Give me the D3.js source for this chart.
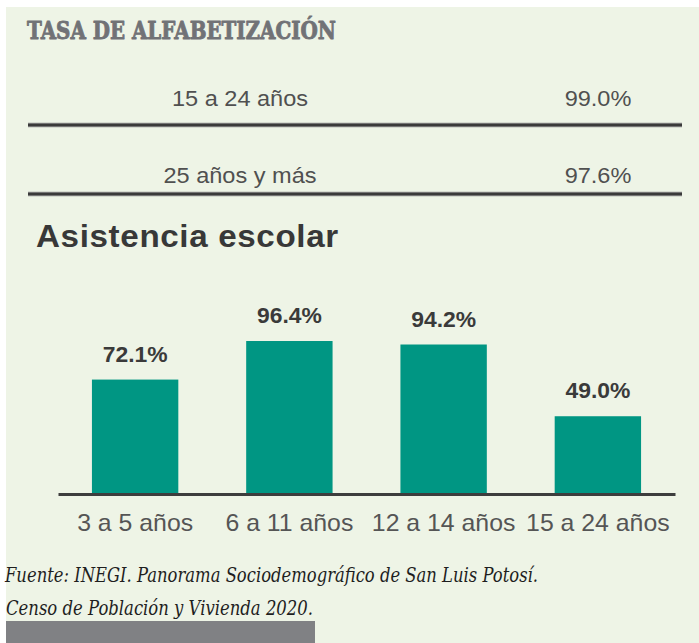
<!DOCTYPE html>
<html>
<head>
<meta charset="utf-8">
<script src="https://cdn.jsdelivr.net/npm/d3@7"></script>
<style>
  html, body { margin: 0; padding: 0; background: #ffffff; }
  svg { display: block; }
</style>
</head>
<body>
<div id="chart"></div>
<script>
// ---- Data ----
const titleTop = "TASA DE ALFABETIZACIÓN";
const literacyGroups = ["15 a 24 años", "25 años y más"];
const literacyValues = [99.0, 97.6];
const chartTitle = "Asistencia escolar";
const categories = ["3 a 5 años", "6 a 11 años", "12 a 14 años", "15 a 24 años"];
const attendance = [72.1, 96.4, 94.2, 49.0];
const sourceLines = [
  "Fuente: INEGI. Panorama Sociodemográfico de San Luis Potosí.",
  " Censo de Población y Vivienda 2020."
];

// ---- Setup ----
const W = 699, H = 643;
const SX = 1.07; // horizontal stretch of the reference typography
const svg = d3.select("#chart").append("svg").attr("width", W).attr("height", H);

svg.append("rect").attr("x", 6).attr("y", 7).attr("width", W - 6).attr("height", H - 7)
  .attr("fill", "#eef4e6");
svg.append("rect").attr("x", 6).attr("y", 621).attr("width", 309).attr("height", H - 621)
  .attr("fill", "#808184");

function txt(x, y, s, o) {
  const g = svg.append("g").attr("transform", `translate(${x},${y}) scale(${o.sx || SX},1)`);
  const t = g.append("text").attr("x", 0).attr("y", 0)
    .attr("text-anchor", o.anchor || "start")
    .attr("font-family", o.family || "'Liberation Sans', Arial, sans-serif")
    .attr("font-size", o.size)
    .attr("font-weight", o.weight || "normal")
    .attr("font-style", o.style || "normal")
    .attr("fill", o.fill || "#333")
    .text(s);
  if (o.letter) t.attr("letter-spacing", o.letter);
  if (o.len) t.attr("textLength", o.len).attr("lengthAdjust", "spacingAndGlyphs");
  if (o.stroke) t.attr("stroke", o.fill).attr("stroke-width", o.stroke).attr("stroke-linejoin", "round");
  return t;
}

// ---- Literacy table ----
txt(27, 39, titleTop, { size: 24, weight: "bold", fill: "#717276",
  family: "'DejaVu Serif', serif", sx: 1, len: 309, stroke: 0.9 });

const yRow = d3.scalePoint().domain(literacyGroups).range([106, 183]);
const lineOffset = [19, 11];
literacyGroups.forEach((g, i) => {
  txt(240, yRow(g), g, { size: 22, anchor: "middle", fill: "#505050" });
  txt(598, yRow(g), literacyValues[i].toFixed(1) + "%", { size: 22, anchor: "middle", fill: "#505050" });
  const ly = yRow(g) + lineOffset[i];
  svg.append("line").attr("x1", 28).attr("x2", 682).attr("y1", ly).attr("y2", ly)
    .attr("stroke", "#8a8a8a").attr("stroke-width", 4.5);
  svg.append("line").attr("x1", 28).attr("x2", 682).attr("y1", ly).attr("y2", ly)
    .attr("stroke", "#3a3a3a").attr("stroke-width", 2.5);
});

// ---- Bar chart ----
txt(36, 247, chartTitle, { size: 31, weight: "bold", fill: "#383838", letter: 0.6 });

const x = d3.scaleBand().domain(categories).range([58, 675])
  .paddingInner(0.44).paddingOuter(0.22);
const y = d3.scaleLinear().domain([0, 100]).range([494, 335.3]);

svg.selectAll("rect.bar").data(attendance).join("rect")
  .attr("class", "bar")
  .attr("x", (d, i) => x(categories[i]))
  .attr("y", d => y(d))
  .attr("width", x.bandwidth())
  .attr("height", d => y(0) - y(d))
  .attr("fill", "#009683");

attendance.forEach((d, i) => {
  txt(x(categories[i]) + x.bandwidth() / 2, y(d) - 18, d.toFixed(1) + "%",
    { size: 22, weight: "bold", anchor: "middle", fill: "#3a3a3a", sx: 1.04 });
});

// axis baseline + labels
const xAxis = d3.axisBottom(x).tickSize(0).tickSizeOuter(0).tickPadding(0).tickFormat(() => "");
const ax = svg.append("g").attr("transform", `translate(0,${y(0)})`).call(xAxis);
ax.select(".domain").attr("stroke", "#3d3d3d").attr("stroke-width", 3);
categories.forEach(c => {
  txt(x(c) + x.bandwidth() / 2, 531, c, { size: 23, anchor: "middle", fill: "#555", sx: 1.08 });
});

// ---- Source ----
txt(5, 582, sourceLines[0], { size: 20, style: "italic", fill: "#1e1e1e",
  family: "'DejaVu Serif', serif", sx: 1, len: 533 });
txt(6, 615, sourceLines[1], { size: 20, style: "italic", fill: "#1e1e1e",
  family: "'DejaVu Serif', serif", sx: 1, len: 307 });
</script>
</body>
</html>
